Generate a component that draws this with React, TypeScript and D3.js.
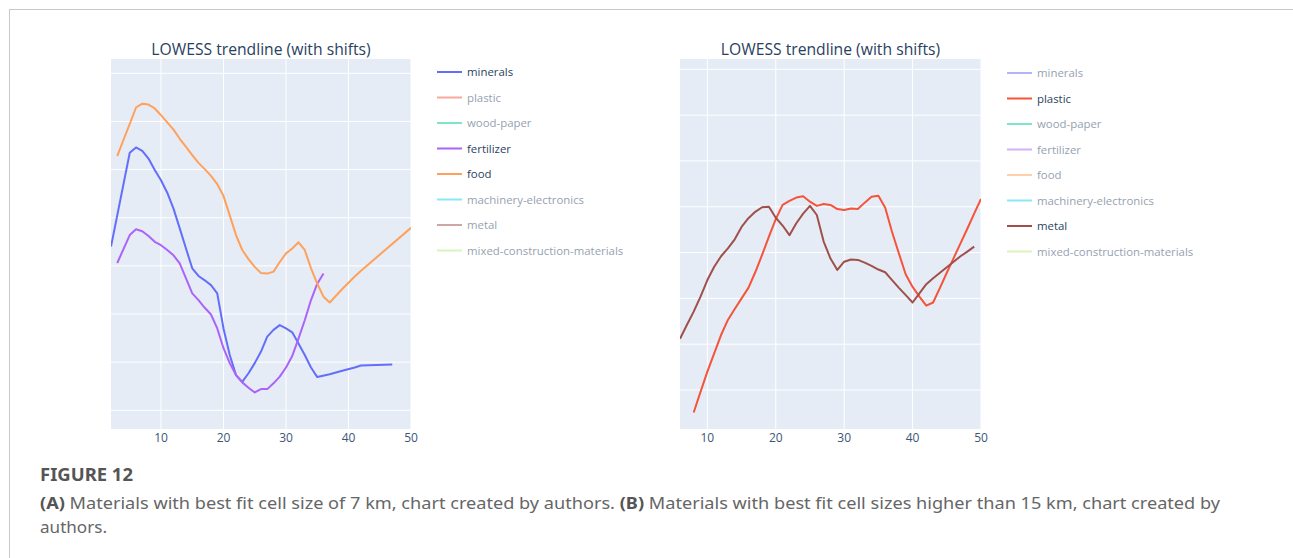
import React from "react";
import * as d3 from "d3";

type Pt = [number, number];

// ---------- data ----------
const seriesNames = [
  "minerals",
  "plastic",
  "wood-paper",
  "fertilizer",
  "food",
  "machinery-electronics",
  "metal",
  "mixed-construction-materials",
];
const seriesColors = [
  "#636efa",
  "#f5533a",
  "#00cc96",
  "#ab63fa",
  "#ffa15a",
  "#19d3f3",
  "#a0504b",
  "#b6e880",
];
const xTicks = [10, 20, 30, 40, 50];
const yGridA = [0, 1, 2, 3, 4, 5, 6, 7];
const yGridB = [0, 1, 2, 3, 4, 5, 6, 7];

const mineralsA: Pt[] = [
  [2, 3.4], [5, 5.35], [6, 5.46], [7, 5.39], [8, 5.23], [9, 4.99], [10, 4.78],
  [11, 4.52], [12, 4.19], [13, 3.78], [14, 3.36], [15, 2.95], [16, 2.79],
  [17, 2.7], [18, 2.6], [19, 2.43], [20, 1.7], [21, 1.15], [22, 0.73],
  [23, 0.59], [24, 0.77], [25, 0.98], [26, 1.22], [27, 1.53], [28, 1.67],
  [29, 1.77], [30, 1.7], [31, 1.62], [32, 1.39], [33, 1.15], [34, 0.89],
  [35, 0.69], [37, 0.75], [39, 0.82], [41, 0.89], [42, 0.93], [47, 0.95],
];
const foodA: Pt[] = [
  [3, 5.28], [4, 5.62], [5, 5.95], [6, 6.29], [7, 6.37], [8, 6.35], [9, 6.27],
  [10, 6.13], [11, 5.98], [12, 5.83], [13, 5.64], [14, 5.47], [15, 5.3],
  [16, 5.14], [17, 5.01], [18, 4.87], [19, 4.7], [20, 4.45], [21, 4.05],
  [22, 3.64], [23, 3.33], [24, 3.14], [25, 2.98], [26, 2.85], [27, 2.84],
  [28, 2.88], [29, 3.08], [30, 3.26], [31, 3.36], [32, 3.49], [33, 3.33],
  [34, 2.95], [35, 2.63], [36, 2.36], [37, 2.24], [39, 2.52], [41, 2.78],
  [42, 2.9], [50, 3.79],
];
const fertilizerA: Pt[] = [
  [3, 3.06], [5, 3.64], [6, 3.76], [7, 3.72], [8, 3.62], [9, 3.5], [10, 3.43],
  [11, 3.33], [12, 3.22], [13, 3.05], [14, 2.74], [15, 2.43], [16, 2.29],
  [17, 2.13], [18, 1.99], [19, 1.7], [20, 1.29], [21, 0.98], [22, 0.73],
  [23, 0.58], [24, 0.47], [25, 0.37], [26, 0.44], [27, 0.44], [28, 0.56],
  [29, 0.7], [30, 0.89], [31, 1.13], [32, 1.49], [33, 1.87], [34, 2.29],
  [35, 2.63], [36, 2.84],
];
const plasticB: Pt[] = [
  [8, -0.49], [9, -0.04], [10, 0.4], [11, 0.8], [12, 1.2], [13, 1.53],
  [14, 1.77], [15, 2.0], [16, 2.23], [17, 2.57], [18, 2.95], [19, 3.35],
  [20, 3.73], [21, 4.04], [22, 4.13], [23, 4.2], [24, 4.23], [25, 4.11],
  [26, 4.02], [27, 4.06], [28, 4.04], [29, 3.95], [30, 3.93], [31, 3.96],
  [32, 3.95], [33, 4.09], [34, 4.22], [35, 4.24], [36, 3.98], [37, 3.45],
  [38, 2.98], [39, 2.52], [40, 2.25], [41, 2.04], [42, 1.84], [43, 1.91],
  [44, 2.23], [45, 2.56], [46, 2.88], [47, 3.2], [48, 3.52], [49, 3.85],
  [50, 4.17],
];
const metalB: Pt[] = [
  [6, 1.12], [7, 1.42], [8, 1.71], [9, 2.04], [10, 2.4], [11, 2.69],
  [12, 2.92], [13, 3.09], [14, 3.29], [15, 3.56], [16, 3.75], [17, 3.89],
  [18, 3.99], [19, 4.0], [20, 3.76], [21, 3.59], [22, 3.38], [23, 3.64],
  [24, 3.85], [25, 4.02], [26, 3.82], [27, 3.24], [28, 2.87], [29, 2.62],
  [30, 2.8], [31, 2.85], [32, 2.84], [33, 2.78], [34, 2.71], [35, 2.63],
  [36, 2.57], [37, 2.4], [38, 2.23], [39, 2.07], [40, 1.91], [41, 2.11],
  [42, 2.31], [43, 2.44], [44, 2.56], [45, 2.68], [46, 2.8], [47, 2.92],
  [48, 3.02], [49, 3.13],
];

const FONT = "'Open Sans', 'Noto Sans', sans-serif";
const TXT = "#2a3f5f";

type PanelProps = {
  id: string;
  left: number;
  right: number;
  top: number;
  bottom: number;
  xDomain: [number, number];
  yZero: number;
  yUnit: number;
  yGrid: number[];
  traces: { data: Pt[]; color: string }[];
  legendX: number;
  legendY: number;
  active: string[];
};

function Panel(p: PanelProps) {
  const x = d3.scaleLinear().domain(p.xDomain).range([p.left, p.right]);
  const yTop = (p.yZero - p.top) / p.yUnit;
  const yBot = (p.yZero - p.bottom) / p.yUnit;
  const y = d3.scaleLinear().domain([yBot, yTop]).range([p.bottom, p.top]);
  const line = d3
    .line<Pt>()
    .x((d) => x(d[0]))
    .y((d) => y(d[1]));
  const cx = (p.left + p.right) / 2;
  return (
    <g>
      <defs>
        <clipPath id={p.id}>
          <rect x={p.left} y={p.top} width={p.right - p.left} height={p.bottom - p.top} />
        </clipPath>
      </defs>
      <rect x={p.left} y={p.top} width={p.right - p.left} height={p.bottom - p.top} fill="#e5ecf6" />
      {xTicks.map((t) => (
        <line key={"gx" + t} x1={x(t)} x2={x(t)} y1={p.top} y2={p.bottom} stroke="#fff" strokeWidth={1} />
      ))}
      {p.yGrid.map((t) => (
        <line key={"gy" + t} x1={p.left} x2={p.right} y1={y(t)} y2={y(t)} stroke="#fff" strokeWidth={1} />
      ))}
      <g clipPath={`url(#${p.id})`}>
        {p.traces.map((tr, i) => (
          <path key={i} d={line(tr.data) || ""} fill="none" stroke={tr.color} strokeWidth={2} strokeLinejoin="round" />
        ))}
      </g>
      {xTicks.map((t) => (
        <text key={"tx" + t} x={x(t)} y={p.bottom + 13} textAnchor="middle" fontSize={12} fill="#3d5675" fontFamily={FONT}>
          {t}
        </text>
      ))}
      <text x={cx} y={p.top - 4} textAnchor="middle" fontSize={15.7} fill={TXT} fontFamily={FONT}>
        LOWESS trendline (with shifts)
      </text>
      {seriesNames.map((n, i) => {
        const on = p.active.includes(n);
        const yy = p.legendY + i * 25.5;
        return (
          <g key={n} opacity={on ? 1 : 0.5}>
            <line x1={p.legendX} x2={p.legendX + 25} y1={yy} y2={yy} stroke={seriesColors[i]} strokeWidth={2} />
            <text x={p.legendX + 30} y={yy + 4} fontSize={11.4} fill={TXT} fontFamily={FONT}>
              {n}
            </text>
          </g>
        );
      })}
    </g>
  );
}

export default function App() {
  return (
    <svg
      width={1293}
      height={558}
      style={{ position: "absolute", left: 0, top: 0, background: "#fff" }}
    >
      <line x1={9} x2={1293} y1={9.5} y2={9.5} stroke="#c8c8c8" strokeWidth={1} />
      <line x1={9.5} x2={9.5} y1={9} y2={558} stroke="#c8c8c8" strokeWidth={1} />
      <Panel
        id="clipA"
        left={111}
        right={411}
        top={59}
        bottom={429}
        xDomain={[2, 50]}
        yZero={410.3}
        yUnit={48.14}
        yGrid={yGridA}
        traces={[
          { data: mineralsA, color: seriesColors[0] },
          { data: fertilizerA, color: seriesColors[3] },
          { data: foodA, color: seriesColors[4] },
        ]}
        legendX={437}
        legendY={72}
        active={["minerals", "fertilizer", "food"]}
      />
      <Panel
        id="clipB"
        left={680}
        right={981}
        top={59}
        bottom={429}
        xDomain={[6, 50]}
        yZero={390}
        yUnit={45.81}
        yGrid={yGridB}
        traces={[
          { data: plasticB, color: seriesColors[1] },
          { data: metalB, color: seriesColors[6] },
        ]}
        legendX={1007}
        legendY={73}
        active={["plastic", "metal"]}
      />
      <text x={40} y={481} fontSize={17} fontWeight={700} fill="#555" fontFamily="'Liberation Sans Narrow', 'Noto Sans', sans-serif" textLength={93} lengthAdjust="spacingAndGlyphs">
        FIGURE 12
      </text>
      <text x={40} y={509} fontSize={16.5} fill="#666" fontFamily="'Noto Sans', sans-serif" textLength={1180} lengthAdjust="spacingAndGlyphs">
        <tspan fontWeight={700} fill="#555">(A)</tspan> Materials with best fit cell size of 7 km, chart created by authors.{" "}
        <tspan fontWeight={700} fill="#555">(B)</tspan> Materials with best fit cell sizes higher than 15 km, chart created by
      </text>
      <text x={40} y={533} fontSize={16.5} fill="#666" fontFamily="'Noto Sans', sans-serif" textLength={67} lengthAdjust="spacingAndGlyphs">
        authors.
      </text>
    </svg>
  );
}
